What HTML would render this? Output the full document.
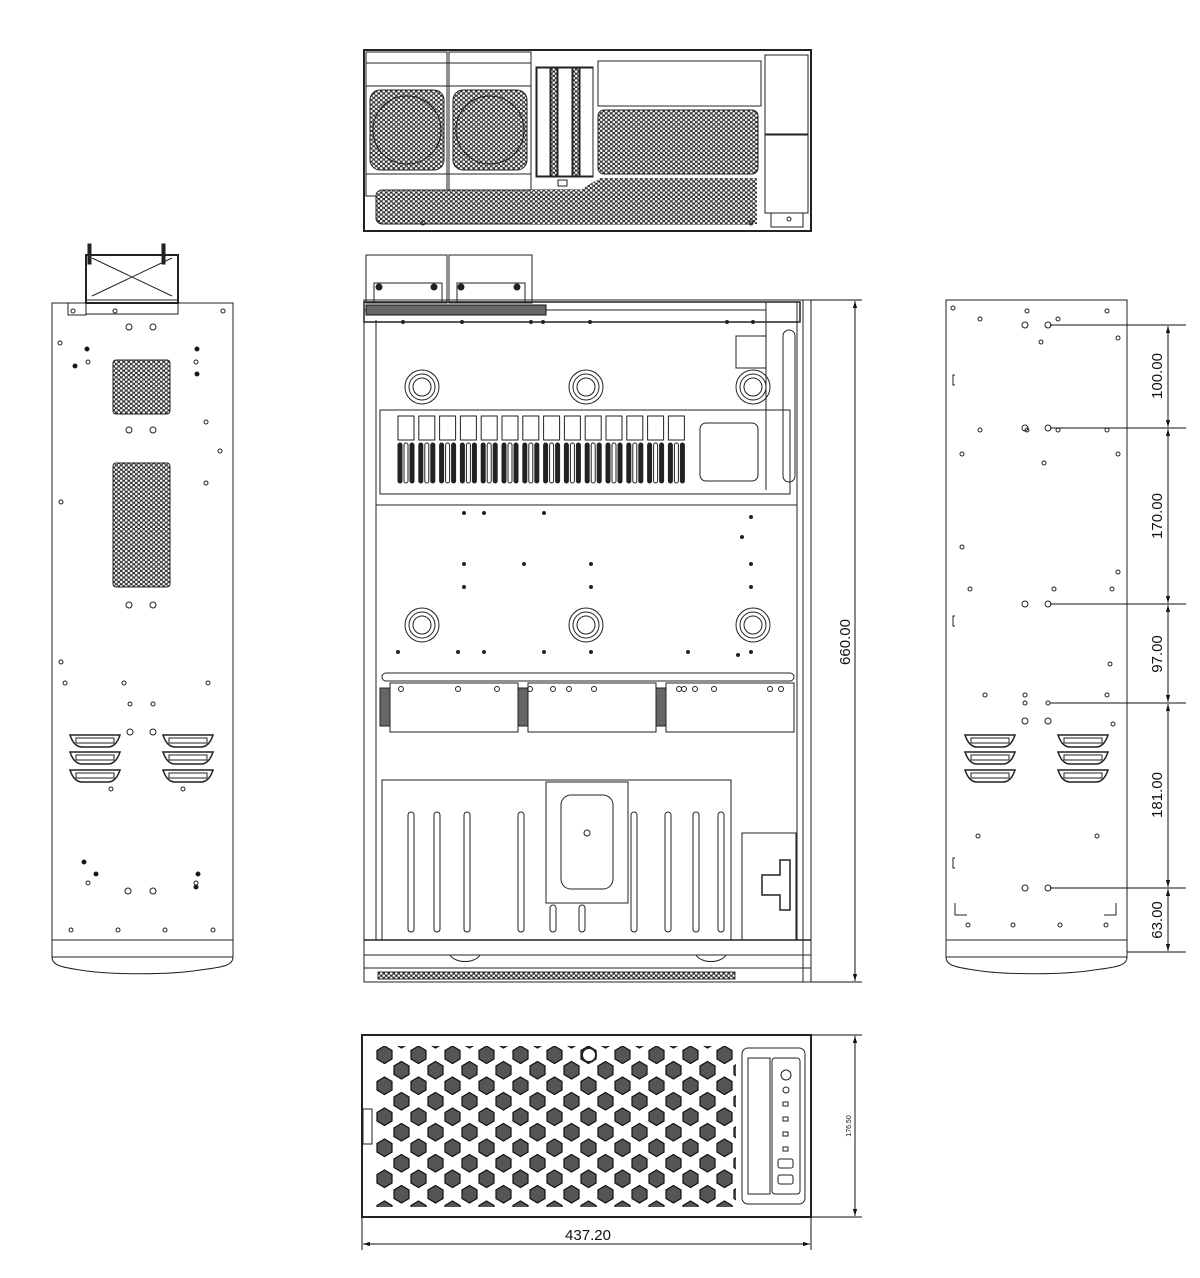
<!DOCTYPE html>
<html><head><meta charset="utf-8"><style>
html,body{margin:0;padding:0;background:#fff;width:1200px;height:1278px;overflow:hidden}
svg{display:block}
text{font-family:"Liberation Sans",Arial,sans-serif;fill:#111}
</style></head><body>
<svg id="s" width="1200" height="1278" viewBox="0 0 1200 1278" xmlns="http://www.w3.org/2000/svg" fill="none" stroke="#222" stroke-width="1">
<defs>
<pattern id="perf" width="5" height="4.4" patternUnits="userSpaceOnUse">
<rect width="5" height="4.4" fill="#333" stroke="none"/>
<circle cx="1.25" cy="1.1" r="1.25" fill="#fff" stroke="none"/>
<circle cx="3.75" cy="3.3" r="1.25" fill="#fff" stroke="none"/>
</pattern>
<pattern id="hex" width="34" height="31" patternUnits="userSpaceOnUse" x="376" y="1047">
<g fill="#555" stroke="#111" stroke-width="1.2">
<polygon points="8.5,-1 16,3.5 16,12 8.5,16.5 1,12 1,3.5"/>
<polygon points="8.5,30 16,34.5 16,43 8.5,47.5 1,43 1,34.5"/>
<polygon points="25.5,14.5 33,19 33,27.5 25.5,32 18,27.5 18,19"/>
<polygon points="25.5,-16.5 33,-12 33,-3.5 25.5,1 18,-3.5 18,-12"/>
</g>
</pattern>
<marker id="ar" viewBox="0 0 10 10" refX="10" refY="5" markerWidth="7" markerHeight="7" orient="auto-start-reverse"><path d="M0,2 L10,5 L0,8 z" fill="#111" stroke="none"/></marker>
</defs>

<!-- ============ TOP (rear) VIEW ============ -->
<rect x="364" y="50" width="447" height="181" stroke-width="2"/>
<rect x="366" y="52" width="81" height="144"/>
<rect x="449" y="52" width="82" height="144"/>
<line x1="366" y1="63" x2="531" y2="63"/>
<line x1="366" y1="86" x2="531" y2="86"/>
<line x1="366" y1="174" x2="531" y2="174"/>
<rect x="370" y="90" width="74" height="80" fill="url(#perf)" rx="10"/>
<rect x="453" y="90" width="74" height="80" fill="url(#perf)" rx="10"/>
<circle cx="407" cy="130" r="34"/><circle cx="490" cy="130" r="34"/>
<rect x="376" y="190" width="380" height="34" rx="6" fill="url(#perf)"/>
<polygon points="531,190 580,190 600,178 757,178 757,224 531,224" fill="url(#perf)" stroke="none"/>
<rect x="536" y="67" width="57" height="110"/>
<rect x="537" y="68" width="13" height="108"/><rect x="558" y="68" width="14" height="108"/><rect x="580" y="68" width="13" height="108"/>
<rect x="551" y="68" width="6" height="108" fill="url(#perf)"/><rect x="573" y="68" width="6" height="108" fill="url(#perf)"/>
<rect x="558" y="180" width="9" height="6"/>
<rect x="598" y="61" width="163" height="45"/>
<rect x="598" y="110" width="160" height="64" rx="6" fill="url(#perf)"/>
<rect x="765" y="55" width="43" height="79"/><rect x="765" y="135" width="43" height="78"/>
<rect x="771" y="213" width="32" height="14"/><circle cx="789" cy="219" r="2"/>
<circle cx="423" cy="223" r="2"/><circle cx="751" cy="223" r="2"/>

<!-- ============ MAIN TOP-DOWN VIEW ============ -->
<rect x="366" y="255" width="81" height="48"/><rect x="449" y="255" width="83" height="48"/>
<rect x="374" y="283" width="68" height="20"/><rect x="457" y="283" width="68" height="20"/>
<circle cx="379" cy="287" r="3" fill="#222"/><circle cx="434" cy="287" r="3" fill="#222"/><circle cx="461" cy="287" r="3" fill="#222"/><circle cx="517" cy="287" r="3" fill="#222"/>
<rect x="364" y="300" width="447" height="682"/>
<line x1="803" y1="300" x2="803" y2="982"/>
<line x1="376" y1="320" x2="376" y2="940"/>
<line x1="797" y1="302" x2="797" y2="940"/>
<rect x="364" y="302" width="436" height="20" stroke-width="1.5"/>
<line x1="364" y1="310" x2="766" y2="310"/>
<path d="M366,305 h180 v10 h-180z" fill="#666" stroke="#111"/>
<line x1="766" y1="302" x2="766" y2="490"/>
<rect x="736" y="336" width="30" height="32"/>
<rect x="783" y="330" width="12" height="152" rx="6"/>
<rect x="380" y="410" width="410" height="84"/>
<rect x="700" y="423" width="58" height="58" rx="6"/>
<line x1="376" y1="505" x2="797" y2="505"/>
<rect x="382" y="673" width="412" height="8" rx="4"/>
<rect x="390" y="683" width="128" height="49"/><rect x="528" y="683" width="128" height="49"/><rect x="666" y="683" width="128" height="49"/>
<rect x="380" y="688" width="10" height="38" fill="#666"/><rect x="518" y="688" width="10" height="38" fill="#666"/><rect x="656" y="688" width="10" height="38" fill="#666"/>
<path d="M382,780 h349 v160 h-349z"/>
<rect x="546" y="782" width="82" height="121"/>
<rect x="561" y="795" width="52" height="94" rx="10"/>
<circle cx="587" cy="833" r="3"/>
<rect x="742" y="833" width="54" height="107"/>
<path d="M780,860 h10 v50 h-10 v-15 h-18 v-20 h18z" stroke-width="1.5"/>
<line x1="364" y1="940" x2="811" y2="940" stroke-width="1.5"/>
<line x1="364" y1="955" x2="811" y2="955"/>
<line x1="364" y1="968" x2="811" y2="968"/>
<path d="M450,955 a16,10 0 0 0 30,0 M696,955 a16,10 0 0 0 30,0"/>
<rect x="378" y="972" width="357" height="7" fill="url(#perf)" stroke="#333"/>
<g id="mainDyn"></g>

<!-- ============ LEFT SIDE VIEW ============ -->
<path d="M52,303 H233 V957 C233,965 225,967 200,970 C170,975 110,975 80,970 C60,967 52,965 52,957 Z"/>
<line x1="52" y1="940" x2="233" y2="940"/><line x1="52" y1="957" x2="233" y2="957"/>
<rect x="86" y="255" width="92" height="48" stroke-width="2"/>
<line x1="92" y1="258" x2="172" y2="296"/><line x1="172" y1="258" x2="92" y2="296"/>
<rect x="88" y="244" width="3" height="20" fill="#222"/><rect x="162" y="244" width="3" height="20" fill="#222"/>
<rect x="86" y="300" width="92" height="14"/>
<path d="M52,303 h34 v12 h-18 v-12"/>
<rect x="113" y="360" width="57" height="54" rx="3" fill="url(#perf)"/>
<rect x="113" y="463" width="57" height="124" rx="3" fill="url(#perf)"/>
<g id="leftDyn"></g>

<!-- ============ RIGHT SIDE VIEW ============ -->
<path d="M946,300 H1127 V957 C1127,965 1119,967 1094,970 C1064,975 1004,975 974,970 C954,967 946,965 946,957 Z"/>
<line x1="946" y1="940" x2="1127" y2="940"/><line x1="946" y1="957" x2="1127" y2="957"/>
<path d="M955,903 v12 h12 M1116,903 v12 h-12"/>
<path d="M955,375 h-2 v10 h2 M955,616 h-2 v10 h2 M955,858 h-2 v10 h2"/>
<g id="rightDyn"></g>
<g stroke="#111">
<line x1="1050" y1="325" x2="1186" y2="325"/>
<line x1="1050" y1="428" x2="1186" y2="428"/>
<line x1="1050" y1="604" x2="1186" y2="604"/>
<line x1="1050" y1="703" x2="1186" y2="703"/>
<line x1="1050" y1="888" x2="1186" y2="888"/>
<line x1="1127" y1="952" x2="1186" y2="952"/>
<line x1="1168" y1="326" x2="1168" y2="427" marker-start="url(#ar)" marker-end="url(#ar)"/>
<line x1="1168" y1="429" x2="1168" y2="603" marker-start="url(#ar)" marker-end="url(#ar)"/>
<line x1="1168" y1="605" x2="1168" y2="702" marker-start="url(#ar)" marker-end="url(#ar)"/>
<line x1="1168" y1="704" x2="1168" y2="887" marker-start="url(#ar)" marker-end="url(#ar)"/>
<line x1="1168" y1="889" x2="1168" y2="951" marker-start="url(#ar)" marker-end="url(#ar)"/>
</g>
<g stroke="none" font-size="15">
<text transform="translate(1162,376) rotate(-90)" text-anchor="middle">100.00</text>
<text transform="translate(1162,516) rotate(-90)" text-anchor="middle">170.00</text>
<text transform="translate(1162,654) rotate(-90)" text-anchor="middle">97.00</text>
<text transform="translate(1162,795) rotate(-90)" text-anchor="middle">181.00</text>
<text transform="translate(1162,920) rotate(-90)" text-anchor="middle">63.00</text>
</g>

<!-- 660 dim -->
<g stroke="#111">
<line x1="811" y1="300" x2="862" y2="300"/><line x1="811" y1="982" x2="862" y2="982"/>
<line x1="855" y1="301" x2="855" y2="981" marker-start="url(#ar)" marker-end="url(#ar)"/>
</g>
<text transform="translate(850,642) rotate(-90)" text-anchor="middle" font-size="15" stroke="none">660.00</text>

<!-- ============ FRONT VIEW ============ -->
<rect x="362" y="1035" width="449" height="182" stroke-width="2"/>
<rect x="376" y="1046" width="360" height="161" fill="url(#hex)" stroke="none"/>
<circle cx="589" cy="1055" r="7" fill="#fff" stroke="#222" stroke-width="2"/>
<rect x="363" y="1109" width="9" height="35" fill="#fff"/>
<rect x="742" y="1048" width="63" height="156" rx="6" fill="#fff"/>
<rect x="748" y="1058" width="22" height="136"/>
<rect x="772" y="1058" width="28" height="136" rx="3"/>
<circle cx="786" cy="1075" r="5"/><circle cx="786" cy="1090" r="3"/>
<rect x="783" y="1102" width="5" height="4"/><rect x="783" y="1117" width="5" height="4"/><rect x="783" y="1132" width="5" height="4"/><rect x="783" y="1147" width="5" height="4"/>
<rect x="778" y="1159" width="15" height="9" rx="2"/><rect x="778" y="1175" width="15" height="9" rx="2"/>
<g stroke="#111">
<line x1="811" y1="1035" x2="862" y2="1035"/><line x1="811" y1="1217" x2="862" y2="1217"/>
<line x1="855" y1="1036" x2="855" y2="1216" marker-start="url(#ar)" marker-end="url(#ar)"/>
<line x1="362" y1="1218" x2="362" y2="1250"/><line x1="811" y1="1218" x2="811" y2="1250"/>
<line x1="363" y1="1244" x2="810" y2="1244" marker-start="url(#ar)" marker-end="url(#ar)"/>
</g>
<text transform="translate(851,1126) rotate(-90)" text-anchor="middle" font-size="7" stroke="none">176.50</text>
<text x="588" y="1240" text-anchor="middle" font-size="15" stroke="none">437.20</text>
</svg>
<script>
var NS="http://www.w3.org/2000/svg";
function el(g,t,a){var e=document.createElementNS(NS,t);for(var k in a)e.setAttribute(k,a[k]);g.appendChild(e);return e;}
var m=document.getElementById("mainDyn");
[[422,387],[586,387],[753,387],[422,625],[586,625],[753,625]].forEach(function(p){[17,13,9].forEach(function(r){el(m,"circle",{cx:p[0],cy:p[1],r:r});});});
for(var i=0;i<14;i++){var x=398+i*20.8;el(m,"rect",{x:x,y:416,width:16,height:24});
 el(m,"rect",{x:x,y:443,width:4,height:40,rx:2,fill:"#222"});el(m,"rect",{x:x+6,y:443,width:4,height:40,rx:2});el(m,"rect",{x:x+12,y:443,width:4,height:40,rx:2,fill:"#222"});}
[411,437,467,521,634,668,696,721].forEach(function(x){el(m,"rect",{x:x-3,y:812,width:6,height:120,rx:3});});
[553,582].forEach(function(x){el(m,"rect",{x:x-3,y:905,width:6,height:27,rx:3});});
[[464,513],[484,513],[544,513],[751,517],[742,537],[464,564],[524,564],[591,564],[751,564],[464,587],[591,587],[751,587],[398,652],[458,652],[484,652],[544,652],[591,652],[688,652],[738,655],[751,652],[403,322],[462,322],[531,322],[543,322],[590,322],[727,322],[753,322]].forEach(function(p){el(m,"circle",{cx:p[0],cy:p[1],r:1.5,fill:"#222"});});
[401,458,497,530,553,569,594,679,684,695,714,770,781].forEach(function(x){el(m,"circle",{cx:x,cy:689,r:2.5});});
var l=document.getElementById("leftDyn");
[[129,327,3],[153,327,3],[129,430,3],[153,430,3],[129,605,3],[153,605,3],[128,891,3],[153,891,3],[60,343,2],[206,422,2],[220,451,2],[206,483,2],[61,502,2],[61,662,2],[65,683,2],[124,683,2],[208,683,2],[111,789,2],[183,789,2],[130,704,2],[153,704,2],[130,732,3],[153,732,3],[223,311,2],[88,362,2],[196,362,2],[88,883,2],[196,883,2],[71,930,2],[118,930,2],[165,930,2],[213,930,2],[115,311,2],[73,311,2]].forEach(function(p){el(l,"circle",{cx:p[0],cy:p[1],r:p[2]});});
[[75,366],[87,349],[197,349],[197,374],[84,862],[96,874],[198,874],[196,887]].forEach(function(p){el(l,"circle",{cx:p[0],cy:p[1],r:2,fill:"#111"});});
function louver(g,x,y){el(g,"path",{d:"M"+x+","+y+" h50 q-4,12 -12,12 h-26 q-8,0 -12,-12z",fill:"#fff","stroke-width":"1.5"});el(g,"rect",{x:x+6,y:y+3,width:38,height:5});}
[735,752,770].forEach(function(y){louver(l,70,y);louver(l,163,y);});
var r=document.getElementById("rightDyn");
[[1025,325,3],[1048,325,3],[1025,428,3],[1048,428,3],[1025,604,3],[1048,604,3],[1025,703,2],[1048,703,2],[1025,721,3],[1048,721,3],[1025,888,3],[1048,888,3],[953,308,2],[1027,311,2],[1107,311,2],[1058,319,2],[980,319,2],[1118,338,2],[980,430,2],[1027,430,2],[1058,430,2],[1107,430,2],[962,454,2],[1118,454,2],[1044,463,2],[962,547,2],[1118,572,2],[970,589,2],[1054,589,2],[1112,589,2],[978,836,2],[1097,836,2],[968,925,2],[1013,925,2],[1060,925,2],[1106,925,2]].forEach(function(p){el(r,"circle",{cx:p[0],cy:p[1],r:p[2]});});
[[985,647],[1025,647],[1110,616],[1107,647],[1113,676],[1041,294]].forEach(function(p){el(r,"circle",{cx:p[0],cy:p[1]+48,r:2});});
[735,752,770].forEach(function(y){louver(r,965,y);louver(r,1058,y);});
</script>
</body></html>
